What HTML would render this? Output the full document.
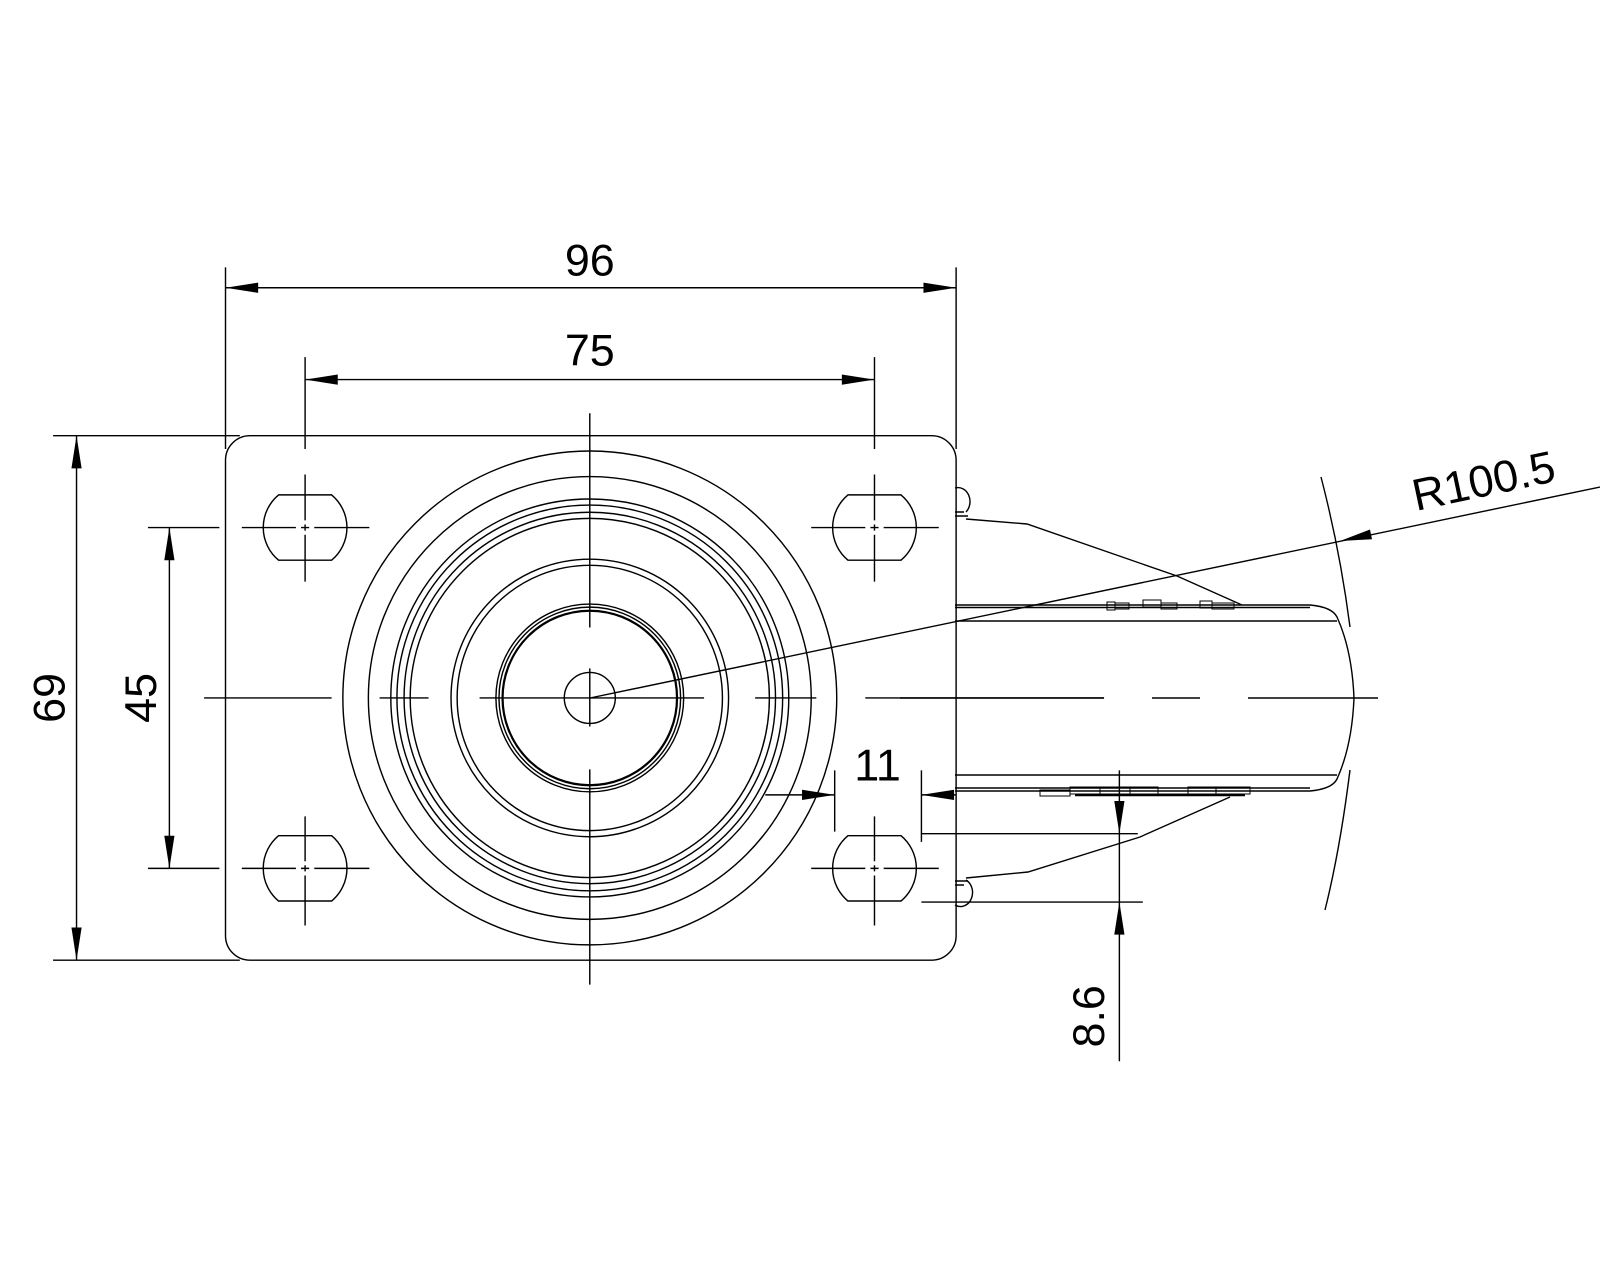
<!DOCTYPE html>
<html><head><meta charset="utf-8"><style>html,body{margin:0;padding:0;background:#fff}svg{display:block}</style></head>
<body>
<svg width="1600" height="1280" viewBox="0 0 1600 1280" xmlns="http://www.w3.org/2000/svg" font-family="Liberation Sans, sans-serif">
<rect width="1600" height="1280" fill="#fff"/>
<g transform="scale(1.0204)" stroke="#000" stroke-width="1.4" fill="none">
  <rect x="221" y="427" width="716" height="514" rx="24" ry="24"/>
  <circle cx="578" cy="684" r="242"/>
  <circle cx="578" cy="684" r="217"/>
  <circle cx="578" cy="684" r="195"/>
  <circle cx="578" cy="684" r="189"/>
  <circle cx="578" cy="684" r="182"/>
  <circle cx="578" cy="684" r="176"/>
  <circle cx="578" cy="684" r="136"/>
  <circle cx="578" cy="684" r="130"/>
  <circle cx="578" cy="684" r="92"/>
  <circle cx="578" cy="684" r="89"/>
  <circle cx="578" cy="684" r="85.5" stroke-width="2.2"/>
  <circle cx="578" cy="684" r="25"/>
  <path d="M273,485 L325,485 A41.6,41.6 0 0 1 325,549 L273,549 A41.6,41.6 0 0 1 273,485 Z"/>
  <path d="M831,485 L883,485 A41.6,41.6 0 0 1 883,549 L831,549 A41.6,41.6 0 0 1 831,485 Z"/>
  <path d="M273,819 L325,819 A41.6,41.6 0 0 1 325,883 L273,883 A41.6,41.6 0 0 1 273,819 Z"/>
  <path d="M831,819 L883,819 A41.6,41.6 0 0 1 883,883 L831,883 A41.6,41.6 0 0 1 831,819 Z"/>
  <g>
    <path d="M237,517 H290 M295,517 H303 M308,517 H362 M299,465 V510 M299,514 V520 M299,524 V570"/>
    <path d="M795,517 H848 M853,517 H861 M866,517 H920 M857,465 V510 M857,514 V520 M857,524 V570"/>
    <path d="M237,851 H290 M295,851 H303 M308,851 H362 M299,800 V844 M299,848 V854 M299,858 V907"/>
    <path d="M795,851 H848 M853,851 H861 M866,851 H920 M857,800 V844 M857,848 V854 M857,858 V907"/>
  </g>
  <path d="M200,684 H325 M372,684 H420 M470,684 H690 M740,684 H800 M848,684 H1082"/>
  <path d="M578,405 V615 M578,655 V712 M578,754 V965"/>
  <path d="M221,262 V440 M937,262 V440 M221,282 H937"/>
  <polygon points="221,282 253,277 253,287" fill="#000" stroke="none"/>
  <polygon points="937,282 905,277 905,287" fill="#000" stroke="none"/>
  <path d="M299,350 V440 M857,350 V440 M299,372 H857"/>
  <polygon points="299,372 331,367 331,377" fill="#000" stroke="none"/>
  <polygon points="857,372 825,367 825,377" fill="#000" stroke="none"/>
  <path d="M52,427 H235 M52,941 H235 M75,427 V941"/>
  <polygon points="75,427 70,459 80,459" fill="#000" stroke="none"/>
  <polygon points="75,941 70,909 80,909" fill="#000" stroke="none"/>
  <path d="M145,517 H215 M145,851 H215 M166,517 V851"/>
  <polygon points="166,517 161,549 171,549" fill="#000" stroke="none"/>
  <polygon points="166,851 161,819 171,819" fill="#000" stroke="none"/>
  <path d="M818,755 V815 M903,755 V825 M750,779 H818 M903,779 H937"/>
  <polygon points="818,779 786,774 786,784" fill="#000" stroke="none"/>
  <polygon points="903,779 935,774 935,784" fill="#000" stroke="none"/>
  <path d="M903,817 H1115 M903,884 H1120 M1097,755 V1040"/>
  <polygon points="1097,817 1092,785 1102,785" fill="#000" stroke="none"/>
  <polygon points="1097,884 1092,916 1102,916" fill="#000" stroke="none"/>
  <g fill="#000" stroke="none" font-size="44">
    <text x="578" y="270" text-anchor="middle">96</text>
    <text x="578" y="358" text-anchor="middle">75</text>
    <text x="860" y="765" text-anchor="middle">11</text>
    <text transform="translate(63,684) rotate(-90)" text-anchor="middle">69</text>
    <text transform="translate(153,684) rotate(-90)" text-anchor="middle">45</text>
    <text transform="translate(1082,996) rotate(-90)" text-anchor="middle">8.6</text>
    <text transform="translate(1457,486) rotate(-12)" text-anchor="middle">R100.5</text>
  </g>
</g>
<g stroke="#000" stroke-width="1.4" fill="none">
  <path d="M955,488 A12,14 0 0 1 966,512 M955,905 A12,14 0 0 0 966,880"/>
  <path d="M955,512 H964 M955,516 H968 M955,881 H968 M955,885 H964"/>
  <path d="M966,519 L1027,524 L1177,576 L1242,605"/>
  <path d="M966,878 L1028,872 L1140,837 L1230,797"/>
  <path d="M955,605 H1310 Q1332,607 1337,617 Q1352,650 1354,698 Q1352,746 1337,779 Q1332,789 1310,791 H955"/>
  <path d="M955,607.5 H1310"/>
  <path d="M955,621 H1337 M955,775 H1337 M955,788 H1310"/>
  <path d="M900,698 H1104 M1152,698 H1200 M1248,698 H1378"/>
  <path d="M1321,477 Q1340,550 1350,627 M1350,770 Q1340,850 1325,910"/>
  <path d="M590,698 L1600,487"/>
  <g stroke-width="1">
    <rect x="1107" y="602" width="8" height="8"/><rect x="1115" y="603" width="14" height="6"/>
    <rect x="1143" y="600" width="18" height="7"/><rect x="1161" y="603" width="16" height="6"/>
    <rect x="1200" y="601" width="12" height="7"/><rect x="1212" y="603" width="22" height="6"/>
    <rect x="1040" y="790" width="30" height="6"/><rect x="1070" y="787" width="30" height="7"/>
    <rect x="1100" y="787" width="30" height="7"/><rect x="1130" y="787" width="28" height="7"/>
    <rect x="1158" y="788" width="30" height="6"/><rect x="1188" y="787" width="28" height="7"/>
    <rect x="1216" y="787" width="34" height="7"/>
  </g>
  <path d="M1075,795 H1245" stroke-width="2.5"/>
</g>
<g fill="#000">
  <polygon points="1340,541 1372,539.3 1370,529.5"/>
</g>
</svg>
</body></html>
